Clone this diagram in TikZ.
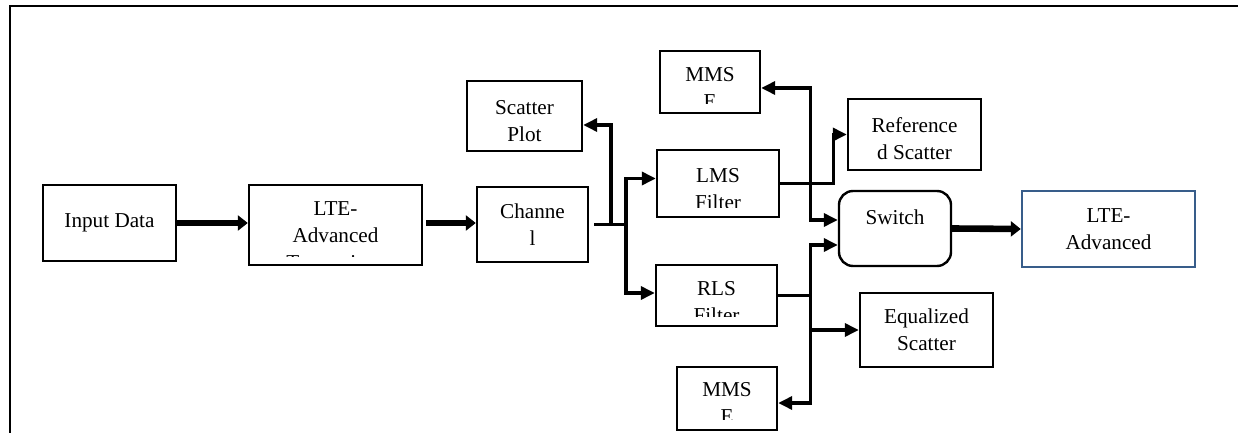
\documentclass[tikz,border=0pt]{standalone}
\usepackage{fontspec}
\setmainfont{Liberation Serif}
\usepackage{xcolor}
\usepackage{tikz}
\usetikzlibrary{arrows.meta}
\definecolor{rxblue}{HTML}{385D8A}
\newcommand{\blkfont}{\fontsize{10.6pt}{13.5pt}\selectfont}

\begin{document}
\begin{tikzpicture}[
    x=0.5pt, y=-0.5pt,
    blk/.style={
        rectangle, draw, line width=1.2pt,
        inner sep=0pt, align=center, font=\blkfont
    },
    txt/.style={inner sep=0pt, align=center, font=\blkfont},
    wire/.style={line width=1.7pt},
    arrow/.style={wire, -{Triangle[length=7pt, width=6.5pt]}},
    twoway/.style={wire, {Triangle[length=7pt, width=6.5pt]}-{Triangle[length=7pt, width=6.5pt]}},
    bigarrow/.style={line width=3.3pt, -{Triangle[length=5pt, width=7.5pt]}}
]
\useasboundingbox (0,0) rectangle (1238,433);
\draw[line width=1.3pt] (10,433) -- (10,6) -- (1238,6);

\node[blk, minimum width=66.5pt, minimum height=38pt] (in) at (109.5,223) {Input Data};
\node[blk, minimum width=86.5pt, minimum height=40pt] (tx) at (335.5,225) {};
\node[blk, minimum width=55.5pt, minimum height=37.5pt] (ch) at (532.5,224.5) {Channe\\l};
\node[blk, minimum width=57.5pt, minimum height=35pt] (sp) at (524.5,116) {};
\node[blk, minimum width=50pt, minimum height=31pt] (mt) at (710,82) {};
\node[blk, minimum width=61pt, minimum height=33.5pt] (lms) at (718,183.5) {};
\node[blk, minimum width=66.5pt, minimum height=35.5pt] (ref) at (914.5,134.5) {};
\node[blk, rounded corners=7pt, minimum width=56pt, minimum height=37.5pt] (sw) at (895,228.5) {};
\node[blk, draw=rxblue, minimum width=86.5pt, minimum height=38pt] (rx) at (1108.5,229) {LTE-\\Advanced};
\node[blk, minimum width=60.5pt, minimum height=30.5pt] (rls) at (716.5,295.5) {};
\node[blk, minimum width=66.5pt, minimum height=37pt] (eq) at (926.5,330) {Equalized\\Scatter};
\node[blk, minimum width=50pt, minimum height=31.5pt] (mb) at (727,398.5) {};

\node[txt] (sp-t) at (524.5,121) {Scatter\\Plot};
\node[txt] (ref-t) at (914.5,138.5) {Reference\\d Scatter};
\node[txt] (sw-t) at (895,217) {Switch};
\begin{scope}
    \clip (tx.north west) rectangle ([yshift=5pt]tx.south east);
    \node[txt] (tx-t) at (335.5,236) {LTE-\\Advanced\\Transmitter};
\end{scope}
\begin{scope}
    \clip (mt.north west) rectangle ([yshift=5.5pt]mt.south east);
    \node[txt] (mt-t) at (710,88) {MMS\\E};
\end{scope}
\begin{scope}
    \clip (lms.north west) rectangle ([yshift=5.5pt]lms.south east);
    \node[txt] (lms-t) at (718,189.5) {LMS\\Filter};
\end{scope}
\begin{scope}
    \clip (rls.north west) rectangle ([yshift=5.5pt]rls.south east);
    \node[txt] (rls-t) at (716.5,302.5) {RLS\\Filter};
\end{scope}
\begin{scope}
    \clip (mb.north west) rectangle ([yshift=6pt]mb.south east);
    \node[txt] (mb-t) at (727,402.5) {MMS\\E};
\end{scope}

\coordinate (ch-a) at (611,224.5);
\coordinate (ch-b) at (626,224.5);
\coordinate (rls-j) at (809,295.5);

\draw[bigarrow] (in.east) -- (in.east -| tx.west);
\draw[bigarrow] ([xshift=1.5pt]tx.east |- in.east) -- (in.east -| ch.west);
\draw[wire] ([xshift=2.5pt]ch.east) -- (ch-b);
\draw[arrow] (ch-a) |- ([yshift=-4.5pt]sp.east);
\draw[arrow] (ch-b) |- ([yshift=2.5pt]lms.west);
\draw[arrow] (ch-b) |- ([yshift=1.25pt]rls.west);
\draw[arrow] (lms.east) -- ++(26.5pt,0) |- (ref.west);
\draw[twoway] ([yshift=-3pt]mt.east) -- ++(24.5pt,0) |- ([yshift=4.25pt]sw.west);
\draw[twoway] ([yshift=-2.25pt]mb.east) -- ++(16pt,0) |- ([yshift=-8.25pt]sw.west);
\draw[wire] (rls.east) -- (rls-j);
\draw[arrow] (rls-j |- eq.west) -- (eq.west);
\draw[bigarrow] (sw.east) -- (rx.west);
\end{tikzpicture}
\end{document}
